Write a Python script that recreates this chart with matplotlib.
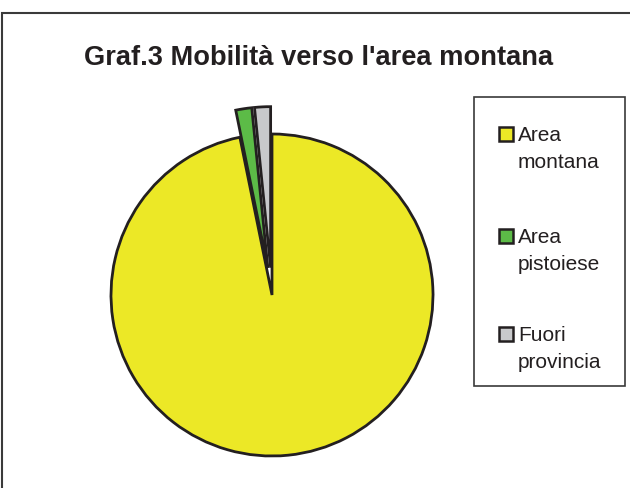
import matplotlib
matplotlib.use("Agg")
import matplotlib.pyplot as plt
from matplotlib.patches import Rectangle

# dati del grafico
labels = ["Area\nmontana", "Area\npistoiese", "Fuori\nprovincia"]
values = [96.8, 1.6, 1.6]
colors = ["#ECE826", "#5CBB47", "#C8C9CB"]
explode = [0, 0.17, 0.17]
title = "Graf.3 Mobilità verso l'area montana"

W, H = 630, 489
cx, cy, r = 272, 296, 161
edge = "#231F20"

plt.rcParams["font.family"] = ["Liberation Sans", "DejaVu Sans"]
fig = plt.figure(figsize=(W / 100, H / 100), dpi=100)
ax = fig.add_axes([0, 0, 1, 1])
ax.axis("off")

ax.pie(values, colors=colors, explode=explode, startangle=90, counterclock=False,
       radius=1, wedgeprops=dict(edgecolor=edge, linewidth=2.0, joinstyle="miter"))
ax.set_xlim((0 - cx) / r, (W - cx) / r)
ax.set_ylim((cy - H) / r, cy / r)
ax.set_aspect("auto")

# cornice esterna
fig.add_artist(Rectangle((1.5 / W, -0.05), 2, 1.05 - 13.5 / H, transform=fig.transFigure,
                         fill=False, ec="#3a3a3a", lw=1.5))

fig.text(319 / W, 1 - 58 / H, title, ha="center", va="center", fontsize=19.6,
         fontweight="bold", color="#231F20")

# riquadro legenda
fig.add_artist(Rectangle((474 / W, 1 - 387 / H), 151 / W, 289 / H, transform=fig.transFigure,
                         fill=False, ec="#3a3a3a", lw=1.2))
ys = [135, 237, 335]
for lab, col, y in zip(labels, colors, ys):
    fig.add_artist(Rectangle((499 / W, 1 - (y + 7) / H), 14 / W, 14 / H, transform=fig.transFigure,
                             fc=col, ec=edge, lw=1.8))
    fig.text(518 / W, 1 - (y + 14) / H, lab, ha="left", va="center", fontsize=15,
             color="#231F20", linespacing=1.55)

fig.savefig("out.png", dpi=100)
